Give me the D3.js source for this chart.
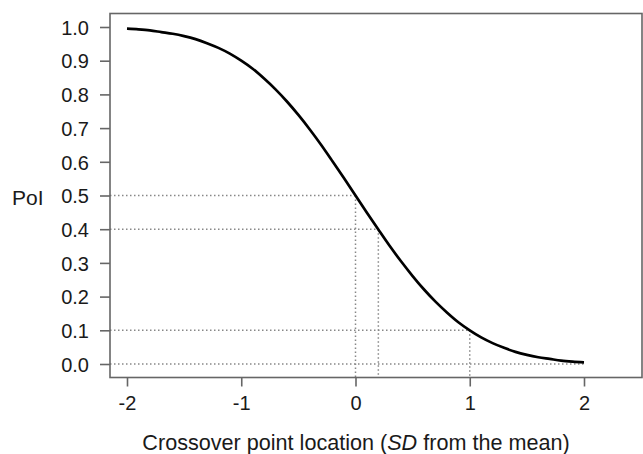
<!DOCTYPE html>
<html><head><meta charset="utf-8">
<script src="https://cdn.jsdelivr.net/npm/d3@7"></script>
<style>body{margin:0;background:#fff}svg{display:block}text{font-family:"Liberation Sans",Arial,sans-serif;fill:#1a1a1a}</style>
</head><body><svg id="c" width="643" height="454"></svg>
<script>
const xVals = [-2,-1.9,-1.8,-1.7,-1.6,-1.5,-1.4,-1.3,-1.2,-1.1,-1,-0.9,-0.8,-0.7,-0.6,-0.5,-0.4,-0.3,-0.2,-0.1,0,0.1,0.2,0.3,0.4,0.5,0.6,0.7,0.8,0.9,1,1.1,1.2,1.3,1.4,1.5,1.6,1.7,1.8,1.9,2];
const poi = [0.995,0.993,0.990,0.985,0.980,0.973,0.964,0.952,0.938,0.921,0.900,0.876,0.847,0.815,0.779,0.739,0.696,0.650,0.601,0.551,0.500,0.449,0.399,0.350,0.304,0.261,0.221,0.185,0.153,0.124,0.100,0.079,0.062,0.048,0.036,0.027,0.020,0.015,0.010,0.007,0.005];
const xTicks = [-2,-1,0,1,2];
const xTickLabels = ["-2","-1","0","1","2"];
const yTicks = [0,0.1,0.2,0.3,0.4,0.5,0.6,0.7,0.8,0.9,1.0];
const yTickLabels = ["0.0","0.1","0.2","0.3","0.4","0.5","0.6","0.7","0.8","0.9","1.0"];
const refX = [0,0.2,1,2];
const refY = [0.5,0.4,0.1,0.0];

const svg = d3.select("#c");
const box = {l:110, r:642, t:13.5, b:377.5};
const x = d3.scaleLinear().domain([-2,2]).range([127,584]);
const y = d3.scaleLinear().domain([0,1]).range([364,27]);

// reference dotted lines
const g = svg.append("g").attr("stroke","#888").attr("stroke-width",1.5).attr("stroke-dasharray","1.5,2.5");
refX.forEach((xv,i)=>{
  g.append("line").attr("x1",box.l).attr("x2",x(xv)).attr("y1",y(refY[i])).attr("y2",y(refY[i]));
  if (xv<2) g.append("line").attr("x1",x(xv)).attr("x2",x(xv)).attr("y1",y(refY[i])).attr("y2",box.b);
});

// curve
svg.append("path").datum(xVals.map((v,i)=>[v,poi[i]]))
  .attr("fill","none").attr("stroke","#000").attr("stroke-width",2.7)
  .attr("d", d3.line().x(d=>x(d[0])).y(d=>y(d[1])).curve(d3.curveMonotoneX));

// box
svg.append("rect").attr("x",box.l).attr("y",box.t).attr("width",box.r-box.l).attr("height",box.b-box.t)
  .attr("fill","none").attr("stroke","#666").attr("stroke-width",1.6);

// axes
const yAx = svg.append("g").attr("transform",`translate(${box.l},0)`)
  .call(d3.axisLeft(y).tickValues(yTicks).tickFormat((d,i)=>yTickLabels[i]).tickSize(10).tickPadding(11));
const xAx = svg.append("g").attr("transform",`translate(0,${box.b})`)
  .call(d3.axisBottom(x).tickValues(xTicks).tickFormat((d,i)=>xTickLabels[i]).tickSize(9).tickPadding(9));
[yAx,xAx].forEach(a=>{
  a.attr("font-size",null).attr("font-family",null);
  a.select(".domain").remove();
  a.selectAll(".tick line").attr("stroke","#666").attr("stroke-width",1.6);
  a.selectAll(".tick text").style("font-size","20px").style("font-family","'Liberation Sans',Arial,sans-serif").attr("fill","#1a1a1a");
});
yAx.selectAll(".tick text").attr("dy","0.36em");

svg.append("text").attr("x",12).attr("y",205).style("font-size","21px").text("PoI");
const t = svg.append("text").attr("x",356).attr("y",450).attr("text-anchor","middle").style("font-size","21.6px");
t.append("tspan").text("Crossover point location (");
t.append("tspan").attr("font-style","italic").text("SD");
t.append("tspan").text(" from the mean)");
</script></body></html>
